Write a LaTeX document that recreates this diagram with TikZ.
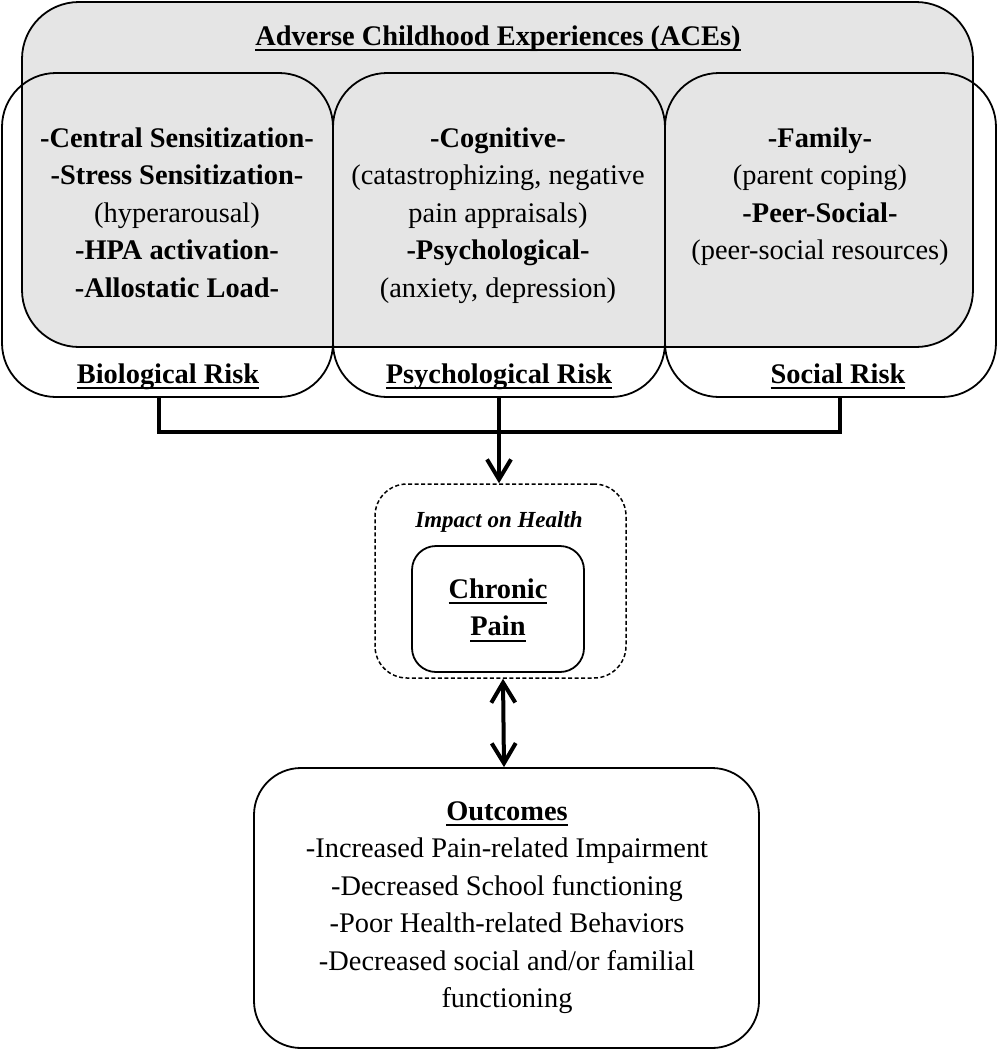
\documentclass[tikz,border=0pt]{standalone}
\usepackage{fontspec}
\setmainfont{Liberation Serif}
\usetikzlibrary{arrows.meta,calc}
\definecolor{acegray}{RGB}{229,229,229}
\newcommand{\ulx}[1]{\leavevmode\setbox0=\hbox{#1}\rlap{\rule[-6pt]{\wd0}{1.8pt}}\box0}
\newcommand{\lns}[1]{\begin{tabular}[t]{@{}c@{}}#1\end{tabular}}
\newcommand{\bigf}{\fontsize{28.4}{37.5}\selectfont}
\begin{document}
\begin{tikzpicture}[x=1pt,y=-1pt,
  box/.style={draw, line width=1.8pt, rounded corners=#1, inner sep=0pt},
  txt/.style={anchor=base, inner sep=0pt, font=\bigf},
  conn/.style={line width=4pt, line join=miter},
  tip/.style={-{Straight Barb[length=20pt,width=24pt]}}]
\useasboundingbox (0,0) rectangle (998,1050);
% ACE background box
\node[box=57pt, fill=acegray, minimum width=951pt, minimum height=345pt] (ace) at (497.5,174.5) {};
% risk boxes
\node[box=54pt, minimum width=331pt, minimum height=324pt] (bio) at (167.5,235) {};
\node[box=54pt, minimum width=332pt, minimum height=324pt] (psy) at (499,235) {};
\node[box=54pt, minimum width=331pt, minimum height=324pt] (soc) at (830.5,235) {};
% texts
\node[txt] (acet) at (498,45) {\ulx{\textbf{Adverse Childhood Experiences (ACEs)}}};
\node[txt] (biot) at (177,147) {\lns{\textbf{-Central Sensitization-}\\ \textbf{-Stress Sensitization-}\\ (hyperarousal)\\ \textbf{-HPA activation-}\\ \textbf{-Allostatic Load-}}};
\node[txt] (psyt) at (498,147) {\lns{\textbf{-Cognitive-}\\ (catastrophizing, negative\\ pain appraisals)\\ \textbf{-Psychological-}\\ (anxiety, depression)}};
\node[txt] (soct) at (820,147) {\lns{\textbf{-Family-}\\ (parent coping)\\ \textbf{-Peer-Social-}\\ (peer-social resources)}};
\node[txt] (biol) at (168,383) {\ulx{\textbf{Biological Risk}}};
\node[txt] (psyl) at (499,383) {\ulx{\textbf{Psychological Risk}}};
\node[txt] (socl) at (838,383) {\ulx{\textbf{Social Risk}}};
% impact
\node[draw, line width=1.5pt, dash pattern=on 4pt off 2.5pt, rounded corners=32pt, inner sep=0pt, minimum width=251pt, minimum height=194pt] (imp) at (500.5,581) {};
\node[anchor=base, inner sep=0pt, font=\fontsize{23}{27}\selectfont\bfseries\itshape] (impt) at (499,527) {Impact on Health};
\node[box=24pt, minimum width=172pt, minimum height=126pt] (cp) at (498,609) {};
\node[txt] (cpt) at (498,598) {\lns{\ulx{\textbf{Chronic}}\\ \ulx{\textbf{Pain}}}};
% outcomes
\node[box=47pt, minimum width=505pt, minimum height=280pt] (out) at (506.5,908) {};
\node[txt] (outt) at (507,820) {\lns{\ulx{\textbf{Outcomes}}\\ -Increased Pain-related Impairment\\ -Decreased School functioning\\ -Poor Health-related Behaviors\\ -Decreased social and/or familial\\ functioning}};
% connectors
\coordinate (bL) at (159,432);
\coordinate (bR) at (840,432);
\draw[conn] (bio.south -| bL) -- (bL) -- (bR) -- (soc.south -| bR);
\draw[conn, tip] (psy.south) -- (psy.south |- imp.north);
\draw[conn, {Straight Barb[length=20pt,width=24pt]}-{Straight Barb[length=20pt,width=24pt]}] ([xshift=2.5pt]imp.south) -- ([xshift=-2.5pt]out.north);
\end{tikzpicture}
\end{document}
